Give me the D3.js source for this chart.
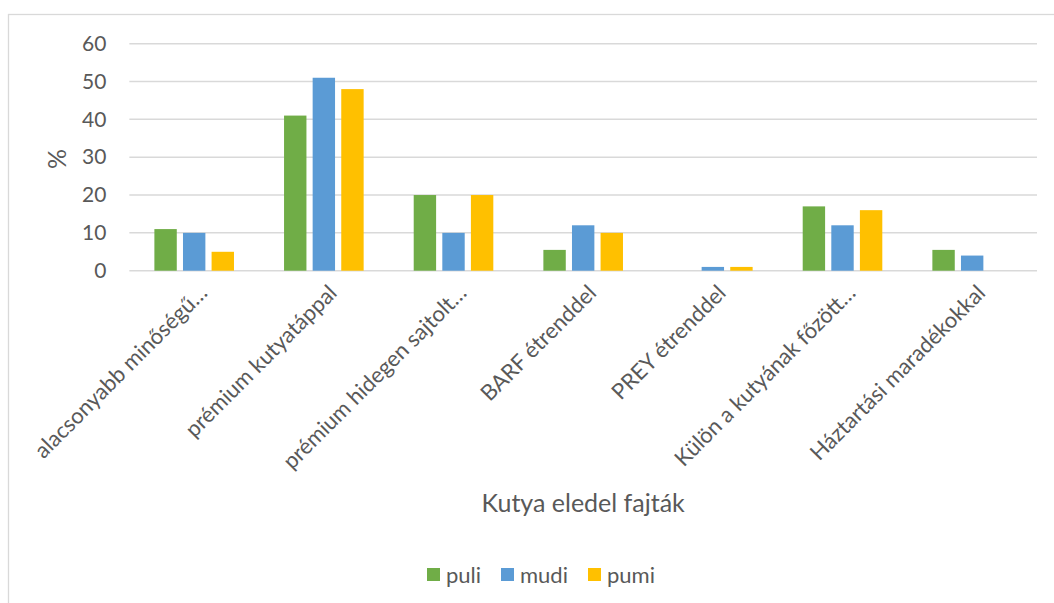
<!DOCTYPE html>
<meta charset="utf-8">
<style type="text/css">
body {
  margin: 0;
  background: #fff;
  font-family: Lato, "Open Sans", sans-serif;
}

text {
  fill: #595959;
}

.grid line {
  stroke: #d9d9d9;
  stroke-width: 1.5px;
}

.axis text {
  font-size: 21px;
}

.cat text {
  font-size: 22px;
}

.legend text {
  font-size: 22px;
}

.title {
  font-size: 25px;
}
</style>
<body>
<script src="https://cdnjs.cloudflare.com/ajax/libs/d3/7.8.5/d3.min.js"></script>
<script>
var categories = [
  "alacsonyabb minőségű…",
  "prémium kutyatáppal",
  "prémium hidegen sajtolt…",
  "BARF étrenddel",
  "PREY étrenddel",
  "Külön a kutyának főzött…",
  "Háztartási maradékokkal"
];
var series = ["puli", "mudi", "pumi"];
var puli = [11, 41, 20, 5.5, 0, 17, 5.5];
var mudi = [10, 51, 10, 12, 1, 12, 4];
var pumi = [5, 48, 20, 10, 1, 16, 0];
var yTicks = [0, 10, 20, 30, 40, 50, 60];
var colors = ["#70ad47", "#5b9bd5", "#ffc000"];

var values = [puli, mudi, pumi];

var width = 1054, height = 603;
var plot = { left: 129.35, right: 1037, top: 43.7, bottom: 270.7 };

var svg = d3.select("body")
  .append("svg")
    .attr("width", width)
    .attr("height", height);

// chart frame (only left and top edges fall inside the picture)
svg.append("rect")
  .attr("x", 8.5)
  .attr("y", 14.5)
  .attr("width", 1100)
  .attr("height", 700)
  .attr("fill", "none")
  .attr("stroke", "#d9d9d9")
  .attr("stroke-width", 1.3);

var x0 = d3.scaleBand()
  .domain(categories)
  .range([plot.left, plot.right]);

var groupWidth = 79.6;
var x1 = d3.scaleBand()
  .domain(series)
  .range([0, groupWidth])
  .paddingInner(0.217);

var y = d3.scaleLinear()
  .domain([0, 60])
  .range([plot.bottom, plot.top]);

// gridlines
svg.append("g")
  .attr("class", "grid")
  .selectAll("line")
  .data(yTicks)
  .enter().append("line")
    .attr("x1", plot.left)
    .attr("x2", plot.right)
    .attr("y1", function(d) { return y(d); })
    .attr("y2", function(d) { return y(d); });

// y axis labels
var yAxis = d3.axisLeft(y)
  .tickValues(yTicks)
  .tickSize(0)
  .tickPadding(23);

svg.append("g")
  .attr("class", "axis")
  .attr("transform", "translate(" + plot.left + ",0)")
  .call(yAxis)
  .call(function(g) { g.select(".domain").remove(); })
  .selectAll("text")
    .style("fill", "#595959");

svg.select(".axis").attr("font-size", null).attr("font-family", null);

// bars
var off = (x0.bandwidth() - groupWidth) / 2;
var groups = svg.selectAll("g.series")
  .data(series)
  .enter().append("g")
    .attr("class", "series")
    .attr("fill", function(d, i) { return colors[i]; });

groups.selectAll("rect")
  .data(function(s, i) {
    return values[i].map(function(v, j) { return { s: s, c: categories[j], v: v }; });
  })
  .enter().append("rect")
    .attr("x", function(d) { return x0(d.c) + off + x1(d.s); })
    .attr("width", x1.bandwidth())
    .attr("y", function(d) { return y(d.v); })
    .attr("height", function(d) { return plot.bottom - y(d.v); });

// category labels, rotated
svg.append("g")
  .attr("class", "cat")
  .selectAll("text")
  .data(categories)
  .enter().append("text")
    .attr("text-anchor", "end")
    .attr("dy", "0.35em")
    .attr("transform", function(d) {
      return "translate(" + (x0(d) + x0.bandwidth() / 2 + 9) + ",289) rotate(-45)";
    })
    .text(function(d) { return d; });

// axis titles
svg.append("text")
  .attr("class", "title")
  .attr("text-anchor", "middle")
  .attr("x", (plot.left + plot.right) / 2)
  .attr("y", 512)
  .text("Kutya eledel fajták");

svg.append("text")
  .attr("class", "title")
  .attr("text-anchor", "middle")
  .attr("transform", "translate(66,159) rotate(-90)")
  .text("%");

// legend
var legendX = [427, 501, 588];
var legend = svg.selectAll(".legend")
  .data(series)
  .enter().append("g")
    .attr("class", "legend")
    .attr("transform", function(d, i) { return "translate(" + legendX[i] + ",568)"; });

legend.append("rect")
  .attr("width", 13)
  .attr("height", 13)
  .attr("fill", function(d, i) { return colors[i]; });

legend.append("text")
  .attr("x", 19)
  .attr("y", 7)
  .attr("dy", "0.35em")
  .text(function(d) { return d; });
</script>
</body>
